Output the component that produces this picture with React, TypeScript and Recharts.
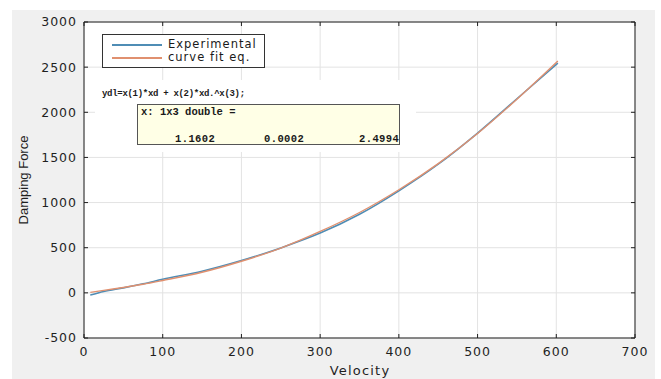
import { LineChart, Line, XAxis, YAxis, CartesianGrid } from 'recharts';

// velocity samples and the two damping-force traces
const velocity = [8, 25, 50, 75, 100, 150, 200, 250, 300, 350, 400, 450, 500, 550, 602];
const experimental = [-25, 15, 55, 100, 150, 240, 358, 498, 662, 870, 1130, 1425, 1770, 2150, 2545];
const curveFit = [5, 28, 60, 95, 137, 228, 350, 496, 680, 890, 1142, 1432, 1765, 2145, 2568];

const xTicks = [0, 100, 200, 300, 400, 500, 600, 700];
const yTicks = [-500, 0, 500, 1000, 1500, 2000, 2500, 3000];

const data = velocity.map((v, i) => ({ v, exp: experimental[i], fit: curveFit[i] }));

const EXP_COLOR = '#4f8db5';
const FIT_COLOR = '#e0906f';
const AXIS = '#1f1f1f';
const tickFont = { fontFamily: 'DejaVu Sans', fontSize: 12.5, fill: AXIS, letterSpacing: 1 };
const mono = { fontFamily: 'Liberation Mono', fontWeight: 700, color: '#1a1a1a' };

export default function App() {
  return (
    <div style={{ position: 'absolute', left: 0, top: 0, width: 661, height: 379, background: '#fff', overflow: 'hidden' }}>
      <div style={{ position: 'absolute', left: 12, top: 10, width: 643, height: 369, background: '#f0f0f0' }} />
      <div style={{ position: 'absolute', left: 0, top: 0 }}>
        <LineChart width={661} height={379} data={data} margin={{ top: 21, right: 25, bottom: 11, left: 24 }}>
          <CartesianGrid xAxisId="bottom" yAxisId="left" stroke="#e3e3e3" fill="#fff" />
          <XAxis
            xAxisId="bottom"
            dataKey="v"
            type="number"
            domain={[0, 700]}
            ticks={xTicks}
            height={30}
            stroke={AXIS}
            tickSize={-4}
            tickMargin={13}
            tick={tickFont}
            allowDataOverflow
          />
          <XAxis
            xAxisId="top"
            orientation="top"
            dataKey="v"
            type="number"
            domain={[0, 700]}
            ticks={xTicks}
            height={1}
            stroke={AXIS}
            tickSize={-4}
            tickFormatter={() => ''}
            allowDataOverflow
          />
          <YAxis
            yAxisId="left"
            type="number"
            domain={[-500, 3000]}
            ticks={yTicks}
            width={60}
            stroke={AXIS}
            tickSize={-4}
            tickMargin={11}
            tick={tickFont}
            allowDataOverflow
          />
          <YAxis
            yAxisId="right"
            orientation="right"
            type="number"
            domain={[-500, 3000]}
            ticks={yTicks}
            width={1}
            stroke={AXIS}
            tickSize={-4}
            tickFormatter={() => ''}
            allowDataOverflow
          />
          <Line
            xAxisId="bottom"
            yAxisId="left"
            type="monotone"
            dataKey="exp"
            stroke={EXP_COLOR}
            strokeWidth={1.6}
            dot={false}
            isAnimationActive={false}
          />
          <Line
            xAxisId="bottom"
            yAxisId="left"
            type="monotone"
            dataKey="fit"
            stroke={FIT_COLOR}
            strokeWidth={1.4}
            dot={false}
            isAnimationActive={false}
          />
        </LineChart>
      </div>

      {/* axis titles */}
      <div style={{ position: 'absolute', left: 300, width: 120, top: 363, textAlign: 'center', fontFamily: 'DejaVu Sans', fontSize: 13, letterSpacing: 1.2, color: AXIS }}>
        Velocity
      </div>
      <div style={{ position: 'absolute', left: 23, top: 180, transform: 'translate(-50%, -50%) rotate(-90deg)', whiteSpace: 'nowrap', fontFamily: 'Liberation Sans', fontSize: 13, color: AXIS }}>
        Damping Force
      </div>

      {/* fit equation annotation */}
      <div style={{ position: 'absolute', left: 95, top: 80, width: 321, height: 72, background: '#fff' }} />
      <div style={{ position: 'absolute', left: 102, top: 89, fontSize: 9, letterSpacing: -0.3, whiteSpace: 'pre', ...mono }}>
        ydl=x(1)*xd + x(2)*xd.^x(3);
      </div>
      <div style={{ position: 'absolute', left: 137, top: 104, width: 261, height: 39, background: '#ffffe6', border: '1px solid #555' }}>
        <div style={{ position: 'absolute', left: 3, top: 1, fontSize: 10.5, whiteSpace: 'pre', ...mono }}>x: 1x3 double =</div>
        <div style={{ position: 'absolute', left: 37, top: 28, fontSize: 10.5, letterSpacing: 0.4, ...mono }}>1.1602</div>
        <div style={{ position: 'absolute', left: 126, top: 28, fontSize: 10.5, letterSpacing: 0.4, ...mono }}>0.0002</div>
        <div style={{ position: 'absolute', left: 221, top: 28, fontSize: 10.5, letterSpacing: 0.4, ...mono }}>2.4994</div>
      </div>

      {/* legend */}
      <div style={{ position: 'absolute', left: 102, top: 34, width: 161, height: 32, background: '#fff', border: '1px solid #333' }}>
        <div style={{ position: 'absolute', left: 9, top: 9, width: 50, height: 2, background: EXP_COLOR }} />
        <div style={{ position: 'absolute', left: 9, top: 22, width: 50, height: 2, background: FIT_COLOR }} />
        <div style={{ position: 'absolute', left: 65, top: 2, fontFamily: 'DejaVu Sans', fontSize: 11.5, letterSpacing: 1, color: '#1a1a1a' }}>Experimental</div>
        <div style={{ position: 'absolute', left: 65, top: 15, fontFamily: 'DejaVu Sans', fontSize: 11.5, letterSpacing: 1, color: '#1a1a1a' }}>curve fit eq.</div>
      </div>
    </div>
  );
}
